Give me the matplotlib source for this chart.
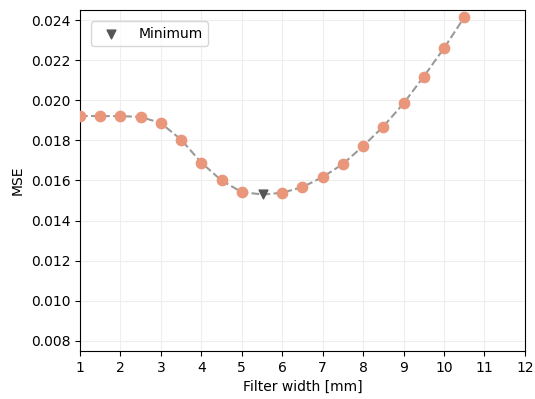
import matplotlib
matplotlib.use("Agg")
import matplotlib.pyplot as plt

# Data
widths = [1.0, 1.5, 2.0, 2.5, 3.0, 3.5, 4.0, 4.5, 5.0, 6.0, 6.5, 7.0, 7.5, 8.0, 8.5, 9.0, 9.5, 10.0, 10.5]
mse = [0.01922, 0.01921, 0.01921, 0.01917, 0.01886, 0.01804, 0.01689, 0.01600, 0.01542,
       0.01539, 0.01567, 0.01617, 0.01682, 0.01771, 0.01869, 0.01984, 0.02118, 0.02259, 0.02413]

curve_x = [1.0, 1.5, 2.0, 2.5, 3.0, 3.5, 4.0, 4.5, 5.0, 5.53, 6.0, 6.5, 7.0, 7.5, 8.0, 8.5, 9.0, 9.5, 10.0, 10.5, 11.0]
curve_y = [0.01922, 0.01921, 0.01921, 0.01917, 0.01886, 0.01804, 0.01689, 0.01600, 0.01542, 0.01530,
           0.01539, 0.01567, 0.01617, 0.01682, 0.01771, 0.01869, 0.01984, 0.02118, 0.02259, 0.02413, 0.0258]

min_x = [5.53]
min_y = [0.01531]

fig = plt.figure(figsize=(5.35, 3.99), dpi=100)
ax = fig.add_axes([0.1495, 0.1203, 0.8315, 0.8547])

ax.plot(curve_x, curve_y, linestyle='--', color='#9a9a9a', linewidth=1.5, zorder=2)
ax.scatter(widths, mse, color='#E9967A', s=55, zorder=3)
ax.scatter(min_x, min_y, marker='v', color='#555555', s=40, zorder=4, label='Minimum')

ax.set_xlim(1, 12)
ax.set_ylim(0.0075, 0.0245)
ax.set_xticks(range(1, 13))
ax.set_yticks([0.008, 0.010, 0.012, 0.014, 0.016, 0.018, 0.020, 0.022, 0.024])
ax.set_yticklabels(['0.008', '0.010', '0.012', '0.014', '0.016', '0.018', '0.020', '0.022', '0.024'])
ax.grid(True, color='#eeeeee', linewidth=0.8)
ax.set_axisbelow(True)
ax.set_xlabel('Filter width [mm]')
ax.set_ylabel('MSE')
ax.legend(loc='upper left', handletextpad=1.0, borderaxespad=0.8)

fig.savefig('out.png', dpi=100)
